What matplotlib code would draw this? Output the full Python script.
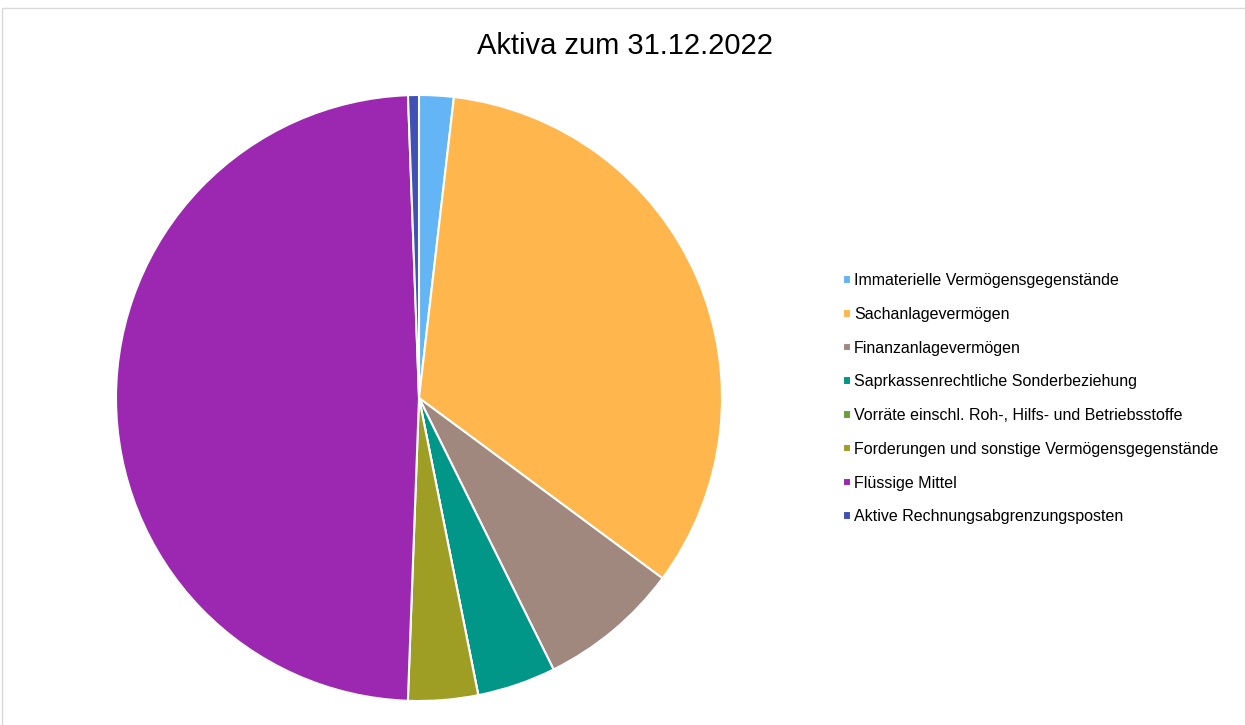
import matplotlib.pyplot as plt
from matplotlib.patches import Rectangle

plt.rcParams['font.family'] = ['Liberation Sans', 'DejaVu Sans']

# Aktiva share in percent
labels = [
    "Immaterielle Vermögensgegenstände",
    "Sachanlagevermögen",
    "Finanzanlagevermögen",
    "Saprkassenrechtliche Sonderbeziehung",
    "Vorräte einschl. Roh-, Hilfs- und Betriebsstoffe",
    "Forderungen und sonstige Vermögensgegenstände",
    "Flüssige Mittel",
    "Aktive Rechnungsabgrenzungsposten",
]
values = [1.84, 33.3, 7.53, 4.19, 0.0, 3.72, 48.83, 0.58]
colors = ["#64B5F6", "#FFB74D", "#A1887F", "#009688",
          "#689F38", "#9E9D24", "#9C27B0", "#3F51B5"]

W, H = 1245, 725
fig = plt.figure(figsize=(W / 100, H / 100), dpi=100)

# chart border (only left/top visible in the crop)
fig.patches.append(Rectangle((2.5 / W, -0.1), 1.2, 1 - 7.5 / H + 0.1,
                             transform=fig.transFigure, fill=False,
                             edgecolor="#d9d9d9", linewidth=1))

cx, cy, r = 419, 398, 303
ax = fig.add_axes([(cx - r) / W, (H - cy - r) / H, 2 * r / W, 2 * r / H])
wedges, _ = ax.pie(values, colors=colors, startangle=90, counterclock=False,
                   radius=1, wedgeprops=dict(edgecolor="white", linewidth=1.5))
ax.set_xlim(-1, 1)
ax.set_ylim(-1, 1)
ax.axis("off")

fig.text(625 / W, 1 - 46 / H, "Aktiva zum 31.12.2022", ha="center", va="center",
         fontsize=21, color="#000000")

fig.legend(wedges, labels, loc="upper left", bbox_to_anchor=(837 / W, 1 - 267 / H),
           frameon=False, fontsize=11.5, handlelength=0.45, handleheight=0.45,
           handletextpad=0.2, labelspacing=1.17, borderaxespad=0)

fig.savefig("out.png", dpi=100)
